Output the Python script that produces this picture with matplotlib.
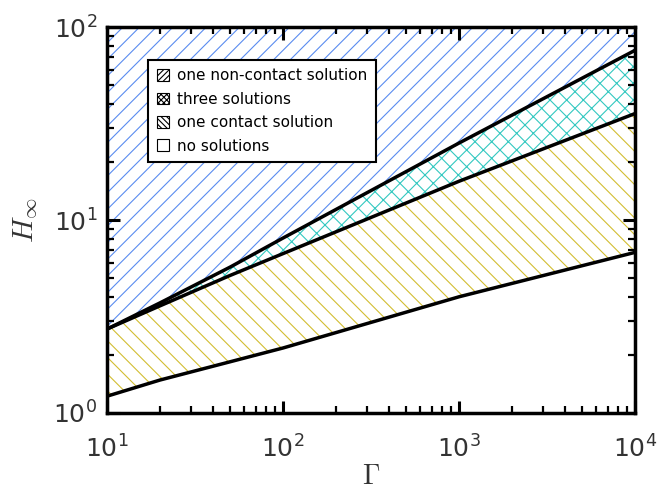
import numpy as np
import matplotlib
matplotlib.use('Agg')
import matplotlib.pyplot as plt
from matplotlib.patches import Patch

# boundary curves (Gamma vs H_inf)
gamma = [10, 20, 50, 100, 1000, 10000]
h_lower = [1.22, 1.48, 1.84, 2.17, 4.0, 6.8]
h_middle = [2.72, 3.59, 5.16, 6.7, 15.9, 35.7]
h_upper = [2.72, 3.72, 5.7, 8.07, 25.1, 76.0]

labels = ['one non-contact solution', 'three solutions',
          'one contact solution', 'no solutions']
legend_hatches = ['//////', 'xxxxxx', '\\\\\\\\\\\\', '']

x_lim = (10, 1e4)
y_lim = (1, 100)

plt.rcParams['hatch.linewidth'] = 0.8

fig = plt.figure(figsize=(6.61, 4.95), dpi=100)
ax = fig.add_axes([0.162, 0.166, 0.799, 0.779])
ax.set_xscale('log')
ax.set_yscale('log')

g = np.array(gamma)
lo = np.array(h_lower)
mid = np.array(h_middle)
up = np.array(h_upper)
top = np.full_like(g, y_lim[1], dtype=float)

# regions
ax.fill(np.concatenate([g, g[::-1]]), np.concatenate([up, top[::-1]]),
        facecolor='none', edgecolor='#5a8cf0', hatch='//', linewidth=0)
ax.fill(np.concatenate([g, g[::-1]]), np.concatenate([mid, up[::-1]]),
        facecolor='none', edgecolor='#33c8c0', hatch='xx', linewidth=0)
ax.fill(np.concatenate([g, g[::-1]]), np.concatenate([lo, mid[::-1]]),
        facecolor='none', edgecolor='#d2be32', hatch='\\\\', linewidth=0)

# boundaries
for h in (h_lower, h_middle, h_upper):
    ax.plot(gamma, h, color='k', lw=2.5, solid_capstyle='butt')

ax.set_xlim(*x_lim)
ax.set_ylim(*y_lim)

for s in ax.spines.values():
    s.set_linewidth(2.5)
ax.tick_params(which='both', direction='in', top=True, right=True,
               labelsize=18, labelcolor='#333333')
ax.tick_params(axis='x', which='both', pad=16)
ax.tick_params(axis='y', which='both', pad=7)
ax.tick_params(which='major', length=9, width=2.2)
ax.tick_params(which='minor', length=5, width=1.6)

ax.set_xlabel(r'$\Gamma$', fontsize=20, color='#333333',
              math_fontfamily='cm', labelpad=0)
ax.set_ylabel(r'$H_\infty$', fontsize=21, color='#333333',
              math_fontfamily='cm', labelpad=10)

handles = [Patch(facecolor='white', edgecolor='k', hatch=h, linewidth=0.8)
           for h in legend_hatches]
leg = ax.legend(handles, labels, loc='upper left',
                bbox_to_anchor=(0.078, 0.915), borderaxespad=0,
                fontsize=11, handlelength=0.8, handleheight=0.8,
                handletextpad=0.55, labelspacing=0.55, borderpad=0.55,
                fancybox=False, framealpha=1)
leg.get_frame().set_edgecolor('k')
leg.get_frame().set_linewidth(1.5)

plt.savefig('out.png', dpi=100)
plt.close()
